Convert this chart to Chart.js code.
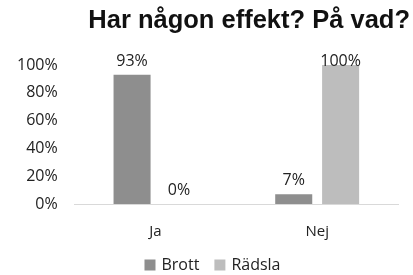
<!DOCTYPE html>
<html>
<head>
<meta charset="utf-8">
<script src="https://cdn.jsdelivr.net/npm/chart.js@4/dist/chart.umd.min.js"></script>
<style>
html,body{margin:0;padding:0;background:#fff;}
#wrap{width:413px;height:275px;position:relative;}
</style>
</head>
<body>
<div id="wrap"><canvas id="c" width="413" height="275"></canvas></div>
<script>
const categories = ["Ja", "Nej"];
const brott = [93, 7];
const radsla = [0, 100];
const seriesNames = ["Brott", "Rädsla"];
const seriesColors = ['#8e8e8e', '#bdbdbd'];
const yTicks = [0, 20, 40, 60, 80, 100];
const titleText = 'Har någon effekt? På vad?';

const FONT = "'Open Sans', sans-serif";

const titlePlugin = {
  id: 'titlePlugin',
  afterDraw(chart) {
    const ctx = chart.ctx;
    ctx.save();
    ctx.font = "bold 25.5px 'Liberation Sans', Arial, sans-serif";
    ctx.fillStyle = '#111';
    ctx.textAlign = 'right';
    ctx.textBaseline = 'middle';
    ctx.fillText(titleText, chart.width - 3, 21);
    ctx.restore();
  }
};

const legendPlugin = {
  id: 'legendPlugin',
  afterDraw(chart) {
    const ctx = chart.ctx;
    ctx.save();
    ctx.font = "16px " + FONT;
    ctx.textBaseline = 'middle';
    ctx.textAlign = 'left';
    const box = 11, gap = 6, itemGap = 15;
    const items = chart.data.datasets.map(ds => ({ text: ds.label, color: ds.backgroundColor, w: ctx.measureText(ds.label).width }));
    const total = items.reduce((s, it) => s + box + gap + it.w, 0) + itemGap * (items.length - 1);
    let x = chart.width / 2 + 6 - total / 2;
    const y = 265;
    items.forEach(it => {
      ctx.fillStyle = it.color;
      ctx.fillRect(x, y - box / 2, box, box);
      x += box + gap;
      ctx.fillStyle = '#222';
      ctx.fillText(it.text, x, y);
      x += it.w + itemGap;
    });
    ctx.restore();
  }
};

const valueLabels = {
  id: 'valueLabels',
  afterDatasetsDraw(chart) {
    const ctx = chart.ctx;
    ctx.save();
    ctx.font = "16px " + FONT;
    ctx.fillStyle = '#222';
    ctx.textAlign = 'center';
    ctx.textBaseline = 'middle';
    chart.data.datasets.forEach((ds, i) => {
      chart.getDatasetMeta(i).data.forEach((bar, j) => {
        const y = Math.max(bar.y - 14, chart.chartArea.top - 4);
        ctx.fillText(ds.data[j] + '%', bar.x, y);
      });
    });
    ctx.restore();
  }
};

new Chart(document.getElementById('c'), {
  type: 'bar',
  data: {
    labels: categories,
    datasets: [
      { label: seriesNames[0], data: brott, backgroundColor: seriesColors[0], categoryPercentage: 0.58, barPercentage: 0.79 },
      { label: seriesNames[1], data: radsla, backgroundColor: seriesColors[1], categoryPercentage: 0.58, barPercentage: 0.79 }
    ]
  },
  options: {
    responsive: false,
    animation: false,
    devicePixelRatio: 1,
    layout: { padding: { left: 0, right: 15, top: 65, bottom: 15 } },
    plugins: {
      title: { display: false },
      legend: { display: false },
      tooltip: { enabled: false }
    },
    scales: {
      x: {
        grid: { display: false, drawTicks: false },
        border: { display: true, color: '#d9d9d9', width: 1 },
        ticks: { color: '#222', font: { family: FONT, size: 15 }, padding: 19 }
      },
      y: {
        min: 0, max: 100,
        afterBuildTicks(scale) { scale.ticks = yTicks.map(v => ({ value: v })); },
        grid: { display: false, drawTicks: false },
        border: { display: false },
        ticks: { color: '#222', font: { family: FONT, size: 16 }, padding: 17, callback: v => v + '%' }
      }
    }
  },
  plugins: [valueLabels, titlePlugin, legendPlugin]
});
</script>
</body>
</html>
